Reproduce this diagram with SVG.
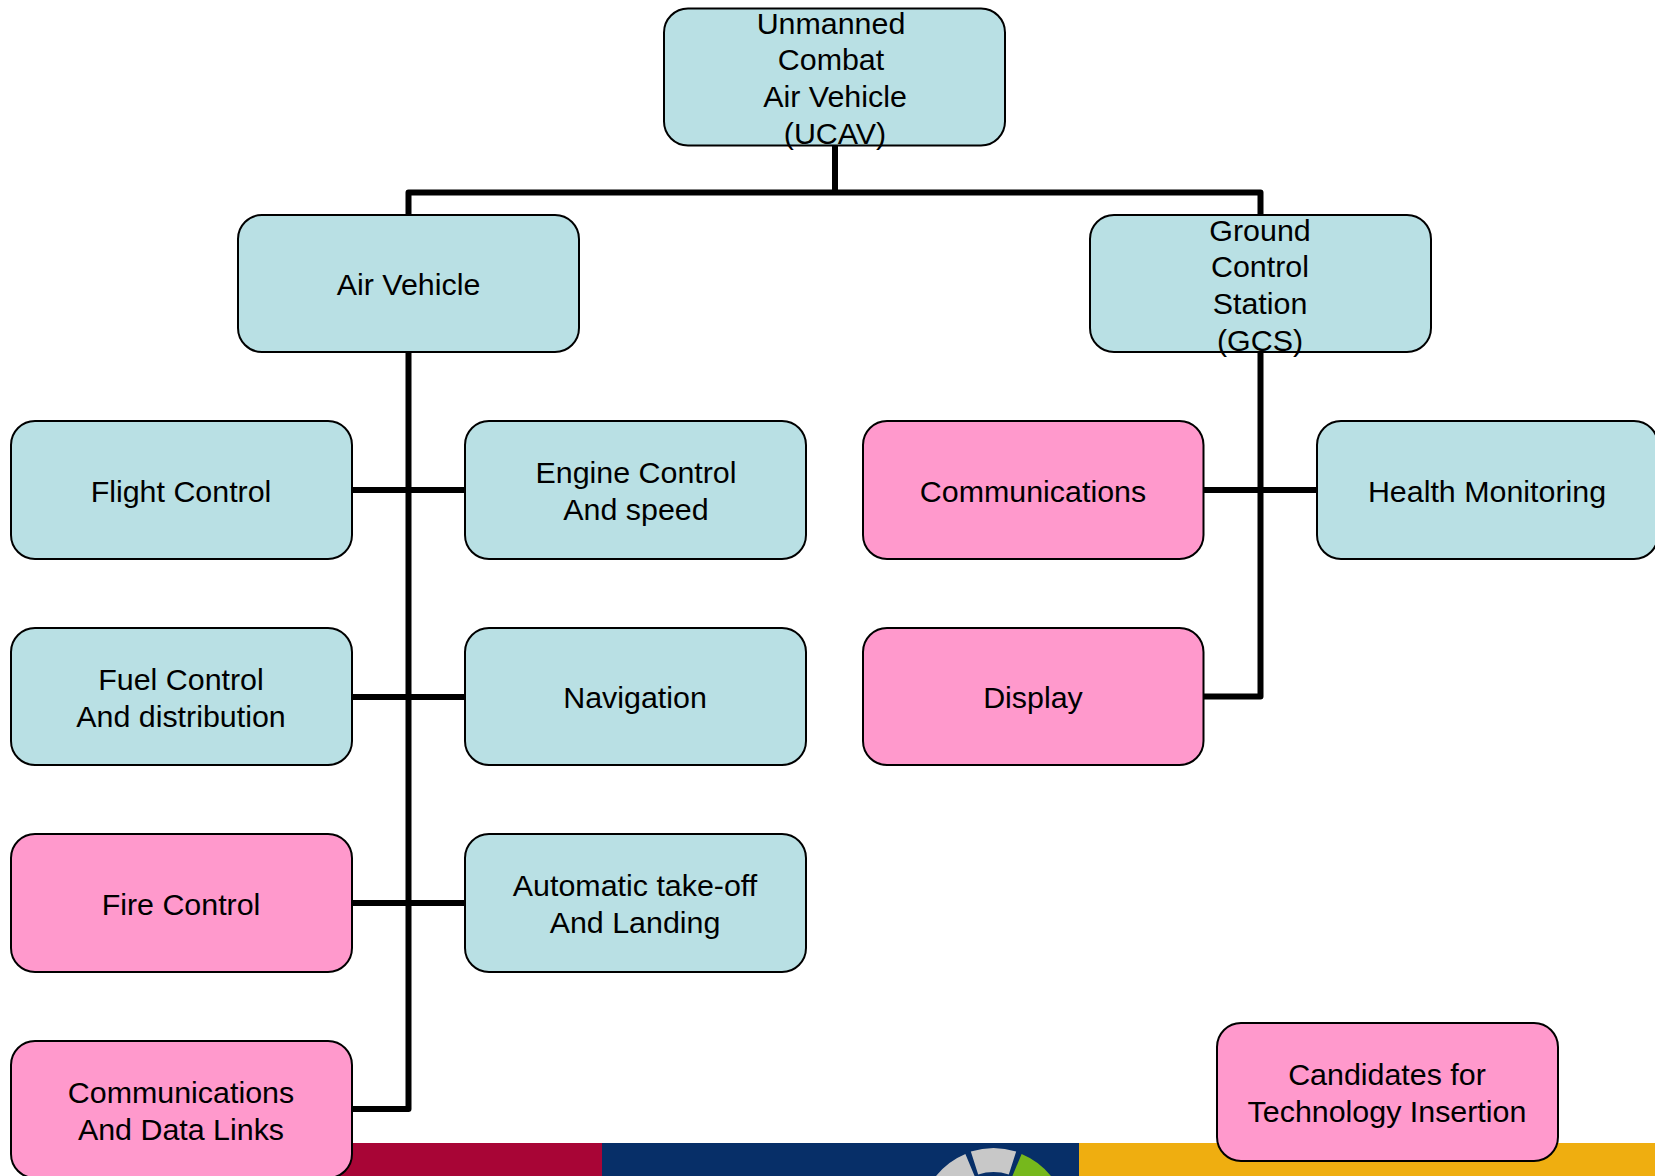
<svg xmlns="http://www.w3.org/2000/svg" width="1655" height="1176" viewBox="0 0 1655 1176">
<style>
.b{stroke:#000;stroke-width:2}
.t{fill:#b9e0e4}.p{fill:#ff99cc}
text{font-family:"Liberation Sans",Arial,sans-serif;font-size:30.4px;text-anchor:middle;fill:#000}
.c{fill:none;stroke:#000;stroke-width:6;stroke-linejoin:round}
.a{fill:none;stroke-width:24}
</style>
<rect width="1655" height="1176" fill="#fff"/>
<rect x="340" y="1143" width="262" height="33" fill="#a80536"/>
<rect x="602" y="1143" width="477" height="33" fill="#072f68"/>
<rect x="1079" y="1143" width="576" height="33" fill="#efae10"/>
<path class="a" stroke="#c8c8c8" d="M940.300 1191A62 62 0 0 1 970 1165"/>
<path class="a" stroke="#c8c8c8" d="M974.500 1163A62 62 0 0 1 1012.500 1163"/>
<path class="a" stroke="#76b81c" d="M1017 1165A62 62 0 0 1 1046.700 1191"/>
<g id="connectors">
<path class="c" d="M835 146V193M408.500 215V192.500H1260.500V215M408.500 352V1109H352M352 490H465M352 697H465M352 903H465M1260.500 352V696.500H1204M1204 490H1317"/>
</g>
<g id="n1"><rect class="b t" x="664" y="8.500" width="341" height="137" rx="24"/><text x="831" y="34">Unmanned</text><text x="831" y="70">Combat</text><text x="835" y="107">Air Vehicle</text><text x="835" y="144">(UCAV)</text></g>
<g id="n2"><rect class="b t" x="238" y="215" width="341" height="137" rx="24"/><text x="408.500" y="295">Air Vehicle</text></g>
<g id="n3"><rect class="b t" x="1090" y="215" width="341" height="137" rx="24"/><text x="1260" y="241">Ground</text><text x="1260" y="277">Control</text><text x="1260" y="314">Station</text><text x="1260" y="350.500">(GCS)</text></g>
<g id="n4"><rect class="b t" x="11" y="421" width="341" height="138" rx="24"/><text x="181" y="502">Flight Control</text></g>
<g id="n5"><rect class="b t" x="465" y="421" width="341" height="138" rx="24"/><text x="636" y="483">Engine Control</text><text x="636" y="520">And speed</text></g>
<g id="n6"><rect class="b p" x="863" y="421" width="340.500" height="138" rx="24"/><text x="1033" y="502">Communications</text></g>
<g id="n7"><rect class="b t" x="1317" y="421" width="341" height="138" rx="24"/><text x="1487" y="502">Health Monitoring</text></g>
<g id="n8"><rect class="b t" x="11" y="628" width="341" height="137" rx="24"/><text x="181" y="690">Fuel Control</text><text x="181" y="727">And distribution</text></g>
<g id="n9"><rect class="b t" x="465" y="628" width="341" height="137" rx="24"/><text x="635" y="708">Navigation</text></g>
<g id="n10"><rect class="b p" x="863" y="628" width="340.500" height="137" rx="24"/><text x="1033" y="708">Display</text></g>
<g id="n11"><rect class="b p" x="11" y="834" width="341" height="138" rx="24"/><text x="181" y="915">Fire Control</text></g>
<g id="n12"><rect class="b t" x="465" y="834" width="341" height="138" rx="24"/><text x="635" y="896">Automatic take-off</text><text x="635" y="933">And Landing</text></g>
<g id="n13"><rect class="b p" x="11" y="1041" width="341" height="137" rx="24"/><text x="181" y="1103">Communications</text><text x="181" y="1140">And Data Links</text></g>
<g id="n14"><rect class="b p" x="1217" y="1023" width="341" height="138" rx="24"/><text x="1387" y="1085">Candidates for</text><text x="1387" y="1122">Technology Insertion</text></g>
</svg>
